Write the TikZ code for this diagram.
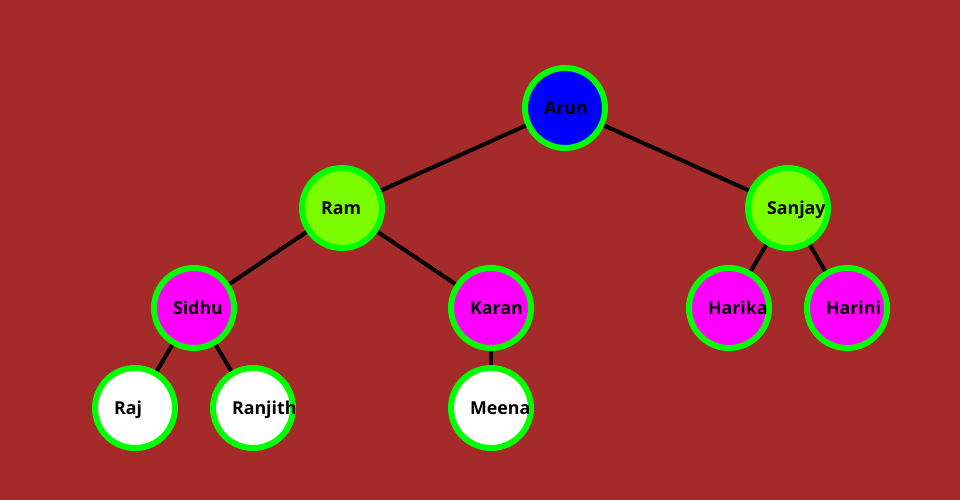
\documentclass[tikz,border=0pt]{standalone}
\usepackage{fontspec}
\setmainfont{Open Sans}
\usepackage{tkz-graph}
\usetikzlibrary{arrows}
\usetikzlibrary{shapes}
\definecolor{treeBrown}{HTML}{A52A2A}
\definecolor{treeLime}{HTML}{00FF00}
\definecolor{treeBlue}{HTML}{0000FF}
\definecolor{treeLawn}{HTML}{7CFC00}
\definecolor{treeMagenta}{HTML}{FF00FF}

\begin{document}
\begin{tikzpicture}[x = 1pt, y = -1pt]
	\tikzstyle{VertexStyle} = []
	\tikzstyle{EdgeStyle} = [line width = 4pt, shorten < = 3pt, shorten > = 3pt]
	\tikzstyle{personStyle} = [shape = circle, minimum size = 80pt, inner sep = 0pt, line width = 6pt, draw = treeLime, text width = 42pt, align = left, text height = 12.5pt, text depth = 0pt, font = \bfseries\fontsize{17.8}{18}\selectfont]
	\tikzstyle{rootStyle} = [personStyle, fill = treeBlue]
	\tikzstyle{childStyle} = [personStyle, fill = treeLawn]
	\tikzstyle{grandStyle} = [personStyle, fill = treeMagenta]
	\tikzstyle{leafStyle} = [personStyle, fill = white]
	\fill[treeBrown] (0,0) rectangle (960,500);
	\Vertex[style = rootStyle, x = 565, y = 108, L = {Arun}]{v0}
	\Vertex[style = childStyle, x = 342, y = 208, L = {Ram}]{v1}
	\Vertex[style = childStyle, x = 788, y = 208, L = {Sanjay}]{v2}
	\Vertex[style = grandStyle, x = 194, y = 308, L = {Sidhu}]{v3}
	\Vertex[style = grandStyle, x = 491, y = 308, L = {Karan}]{v4}
	\Vertex[style = grandStyle, x = 729, y = 308, L = {Harika}]{v5}
	\Vertex[style = grandStyle, x = 847, y = 308, L = {Harini}]{v6}
	\Vertex[style = leafStyle, x = 135, y = 408, L = {Raj}]{v7}
	\Vertex[style = leafStyle, x = 253, y = 408, L = {Ranjith}]{v8}
	\Vertex[style = leafStyle, x = 491, y = 408, L = {Meena}]{v9}
	\Edge(v0)(v1)
	\Edge(v0)(v2)
	\Edge(v1)(v3)
	\Edge(v1)(v4)
	\Edge(v2)(v5)
	\Edge(v2)(v6)
	\Edge(v3)(v7)
	\Edge(v3)(v8)
	\Edge(v4)(v9)
\end{tikzpicture}
\end{document}
